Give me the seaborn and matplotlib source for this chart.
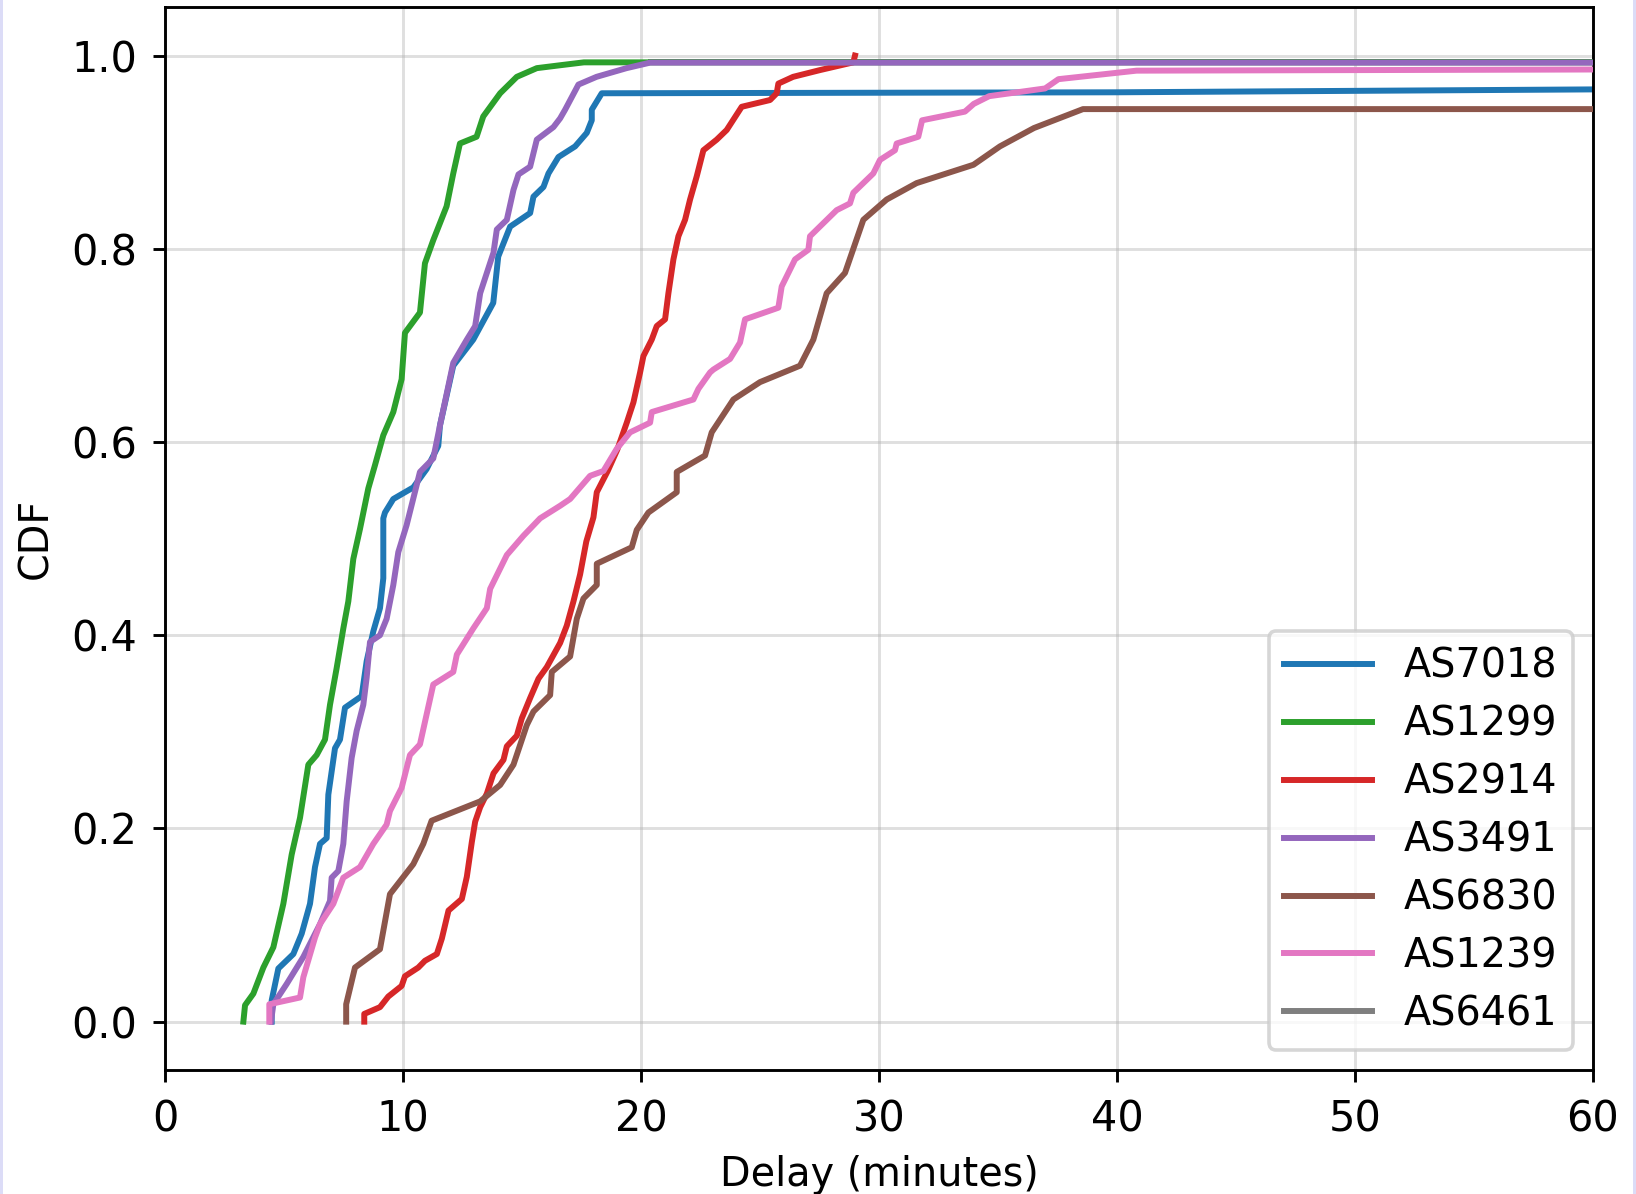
import matplotlib
matplotlib.use("Agg")
import matplotlib.pyplot as plt
from matplotlib.patches import Rectangle
import seaborn as sns

# ---------------- data ----------------
labels = ["AS7018", "AS1299", "AS2914", "AS3491", "AS6830", "AS1239", "AS6461"]
colors = ["#1f77b4", "#2ca02c", "#d62728", "#9467bd", "#8c564b", "#e377c2", "#7f7f7f"]

as7018_x = [4.48, 4.48, 4.76, 5.39, 5.74, 6.09, 6.30, 6.51, 6.79, 6.86, 7.14, 7.35, 7.56, 8.26, 8.47,
            8.75, 9.03, 9.17, 9.17, 9.24, 9.59, 10.43, 10.99, 11.48, 11.55, 12.11, 12.95, 13.79, 14.00,
            14.50, 15.34, 15.48, 15.90, 16.11, 16.53, 17.23, 17.72, 17.93, 17.93, 18.35, 40.0, 60.0]
as7018_y = [0.0, 0.022, 0.055, 0.070, 0.091, 0.122, 0.160, 0.184, 0.190, 0.235, 0.283, 0.292, 0.325,
            0.337, 0.373, 0.404, 0.428, 0.459, 0.521, 0.527, 0.541, 0.553, 0.572, 0.596, 0.617, 0.679,
            0.706, 0.744, 0.792, 0.823, 0.837, 0.854, 0.864, 0.878, 0.895, 0.906, 0.920, 0.933, 0.944,
            0.961, 0.962, 0.965]

as1299_x = [3.29, 3.36, 3.71, 4.13, 4.55, 4.97, 5.32, 5.67, 6.02, 6.37, 6.72, 6.93, 7.21, 7.49, 7.70,
            7.91, 8.19, 8.54, 8.82, 9.17, 9.59, 9.94, 10.08, 10.71, 10.92, 11.27, 11.83, 12.11, 12.39,
            13.09, 13.37, 14.08, 14.78, 15.62, 16.60, 17.60, 60.0]
as1299_y = [0.0, 0.017, 0.029, 0.056, 0.077, 0.122, 0.173, 0.211, 0.266, 0.276, 0.292, 0.328, 0.366,
            0.407, 0.435, 0.479, 0.510, 0.552, 0.576, 0.607, 0.631, 0.665, 0.713, 0.734, 0.785, 0.809,
            0.844, 0.878, 0.909, 0.916, 0.937, 0.961, 0.978, 0.987, 0.990, 0.993, 0.993]

as2914_x = [8.37, 8.37, 9.03, 9.38, 9.94, 10.08, 10.64, 10.92, 11.42, 11.63, 11.91, 12.47, 12.68, 12.89,
            13.03, 13.24, 13.52, 13.80, 14.22, 14.36, 14.78, 14.99, 15.34, 15.69, 16.04, 16.60, 16.88,
            17.16, 17.44, 17.70, 18.00, 18.14, 18.60, 19.00, 19.40, 19.68, 19.96, 20.10, 20.45, 20.66,
            21.01, 21.15, 21.36, 21.57, 21.85, 22.06, 22.34, 22.62, 23.18, 23.60, 24.23, 25.42, 25.70,
            25.77, 26.39, 27.52, 28.92, 28.99]
as2914_y = [0.0, 0.008, 0.015, 0.026, 0.037, 0.047, 0.056, 0.063, 0.070, 0.086, 0.115, 0.127, 0.150,
            0.186, 0.207, 0.222, 0.236, 0.257, 0.271, 0.285, 0.296, 0.314, 0.335, 0.355, 0.367, 0.392,
            0.410, 0.435, 0.463, 0.497, 0.522, 0.548, 0.570, 0.592, 0.620, 0.641, 0.672, 0.689, 0.706,
            0.720, 0.727, 0.754, 0.789, 0.813, 0.830, 0.851, 0.875, 0.902, 0.913, 0.923, 0.947, 0.954,
            0.961, 0.971, 0.978, 0.985, 0.993, 1.000]

as3491_x = [4.45, 4.55, 5.11, 5.81, 6.51, 6.93, 7.00, 7.28, 7.49, 7.63, 7.84, 8.05, 8.33, 8.47, 8.61,
            9.03, 9.31, 9.59, 9.80, 10.15, 10.71, 11.27, 11.55, 12.11, 12.68, 13.03, 13.24, 13.52,
            13.80, 13.94, 14.36, 14.64, 14.85, 15.34, 15.62, 16.32, 16.60, 16.81, 17.37, 18.13, 19.39,
            20.38, 60.0]
as3491_y = [0.0, 0.018, 0.039, 0.067, 0.101, 0.125, 0.149, 0.156, 0.184, 0.228, 0.273, 0.301, 0.328,
            0.356, 0.393, 0.400, 0.417, 0.452, 0.486, 0.514, 0.569, 0.583, 0.617, 0.682, 0.706, 0.720,
            0.754, 0.775, 0.796, 0.820, 0.830, 0.861, 0.877, 0.885, 0.913, 0.926, 0.935, 0.944, 0.970,
            0.978, 0.987, 0.9927, 0.9927]

as6830_x = [7.61, 7.61, 7.98, 9.03, 9.45, 10.43, 10.85, 11.20, 13.24, 14.08, 14.64, 15.20, 15.48, 16.18,
            16.25, 17.02, 17.30, 17.58, 18.14, 18.14, 19.61, 19.82, 20.31, 21.50, 21.50, 22.69, 22.97,
            23.88, 25.00, 26.68, 27.24, 27.80, 28.57, 29.34, 30.32, 31.58, 33.97, 35.08, 36.51, 38.57,
            60.0]
as6830_y = [0.0, 0.018, 0.056, 0.075, 0.132, 0.163, 0.184, 0.208, 0.228, 0.245, 0.266, 0.307, 0.321,
            0.338, 0.362, 0.378, 0.417, 0.438, 0.452, 0.474, 0.491, 0.509, 0.527, 0.548, 0.569, 0.586,
            0.610, 0.644, 0.662, 0.679, 0.706, 0.754, 0.775, 0.830, 0.851, 0.868, 0.887, 0.906, 0.925,
            0.9446, 0.9446]

as1239_x = [4.38, 4.38, 5.67, 5.81, 6.30, 6.51, 7.07, 7.49, 8.19, 8.75, 9.31, 9.45, 9.94, 10.29, 10.71,
            11.27, 12.11, 12.26, 12.95, 13.52, 13.66, 14.36, 15.06, 15.76, 16.60, 17.02, 17.86, 18.42,
            18.98, 19.54, 20.38, 20.45, 22.20, 22.41, 22.90, 23.04, 23.74, 24.16, 24.37, 25.77, 25.91,
            26.47, 27.03, 27.10, 28.22, 28.78, 28.92, 29.76, 30.04, 30.67, 30.74, 31.65, 31.81, 33.61,
            33.98, 34.63, 36.98, 37.54, 40.82, 60.0]
as1239_y = [0.0, 0.018, 0.025, 0.046, 0.087, 0.101, 0.122, 0.149, 0.160, 0.184, 0.204, 0.218, 0.242,
            0.276, 0.287, 0.349, 0.362, 0.380, 0.407, 0.428, 0.448, 0.483, 0.503, 0.521, 0.534, 0.541,
            0.565, 0.570, 0.593, 0.610, 0.620, 0.631, 0.644, 0.655, 0.672, 0.675, 0.686, 0.703, 0.727,
            0.739, 0.761, 0.789, 0.799, 0.813, 0.840, 0.847, 0.858, 0.878, 0.892, 0.902, 0.909, 0.916,
            0.933, 0.942, 0.950, 0.958, 0.966, 0.9756, 0.9844, 0.9856]

as6461_x = [20.40, 60.0]
as6461_y = [0.9935, 0.9935]

xticks = [0, 10, 20, 30, 40, 50, 60]
yticks = [0.0, 0.2, 0.4, 0.6, 0.8, 1.0]

series_x = [as7018_x, as1299_x, as2914_x, as3491_x, as6830_x, as1239_x, as6461_x]
series_y = [as7018_y, as1299_y, as2914_y, as3491_y, as6830_y, as1239_y, as6461_y]

# ---------------- figure ----------------
DPI = 260
fig, ax = plt.subplots(figsize=(1636 / DPI, 1194 / DPI), dpi=DPI)
fig.subplots_adjust(left=0.1009, right=0.9737, bottom=0.1039, top=0.9939)

for i, (lab, col, xs, ys) in enumerate(zip(labels, colors, series_x, series_y)):
    z = 1 if lab == "AS6461" else 2 + i
    sns.lineplot(x=xs, y=ys, sort=False, estimator=None, color=col, label=lab,
                 linewidth=1.65, ax=ax, zorder=z)

ax.set_xlim(0, 60)
ax.set_ylim(-0.05, 1.05)
ax.set_xticks(xticks)
ax.set_yticks(yticks)
ax.tick_params(labelsize=11.5, length=3.3, pad=4.5)
ax.grid(True, alpha=0.4)
ax.set_axisbelow(True)
ax.set_xlabel("Delay (minutes)", fontsize=11, labelpad=4)
ax.set_ylabel("CDF", fontsize=11)

ax.legend(loc="lower right", fontsize=11, handlelength=2.2, labelspacing=0.45)

# thin lavender strips at left/right edges of the image
for x0 in (0.0, 1 - 3 / 1636):
    fig.add_artist(Rectangle((x0, 0), 3 / 1636, 1, transform=fig.transFigure,
                             facecolor="#dcdcf7", edgecolor="none"))

fig.savefig("out.png", dpi=DPI)
